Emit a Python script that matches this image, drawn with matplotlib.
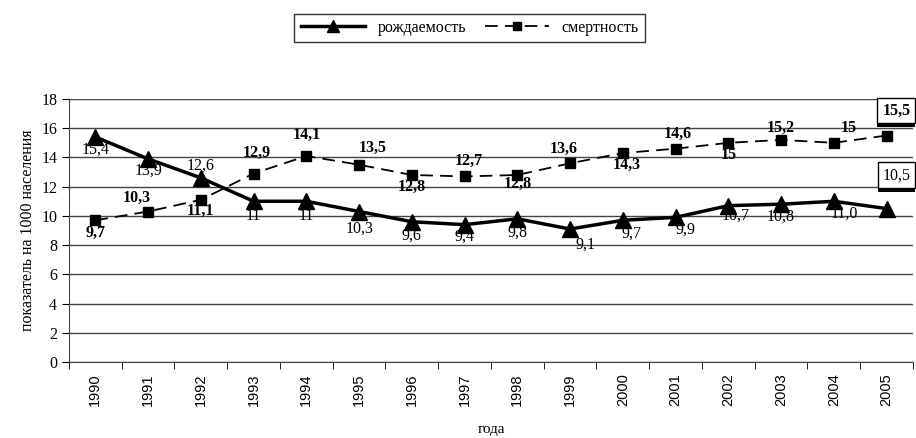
import numpy as np
import matplotlib.pyplot as plt
import matplotlib.patheffects as pe

plt.rcParams['font.family'] = ['Liberation Serif', 'DejaVu Serif']

years = [str(y) for y in range(1990, 2006)]
births = [15.4, 13.9, 12.6, 11, 11, 10.3, 9.6, 9.4, 9.8, 9.1, 9.7, 9.9, 10.7, 10.8, 11.0, 10.5]
deaths = [9.7, 10.3, 11.1, 12.9, 14.1, 13.5, 12.8, 12.7, 12.8, 13.6, 14.3, 14.6, 15, 15.2, 15, 15.5]
births_txt = ['15,4', '13,9', '12,6', '11', '11', '10,3', '9,6', '9,4', '9,8', '9,1',
              '9,7', '9,9', '10,7', '10,8', '11,0', '10,5']
deaths_txt = ['9,7', '10,3', '11,1', '12,9', '14,1', '13,5', '12,8', '12,7', '12,8', '13,6',
              '14,3', '14,6', '15', '15,2', '15', '15,5']

# смещения подписей (в пикселях): x, y
births_off = [(0, -13), (0, -12), (0, 12), (0, -15), (0, -15), (0, -17), (0, -14), (0, -12),
              (0, -14), (15, -16), (9, -13), (10, -12), (7, -10), (0, -12), (10, -12)]
deaths_off = [(0, -13), (-11, 14), (0, -11), (3, 21), (0, 21), (14, 17), (0, -12), (4, 16),
              (0, -9), (-6, 14), (4, -12), (2, 15), (0, -12), (0, 12), (15, 15)]

x = np.arange(len(years))

fig = plt.figure(figsize=(9.16, 4.38), dpi=100)
ax = fig.add_axes([0.0753, 0.1735, 0.9214, 0.6005])

ax.plot(x, births, color='black', lw=2.5, marker='^', markersize=11, label='рождаемость',
        zorder=4, clip_on=False)
ax.plot(x, deaths, color='black', lw=1.3, ls=(0, (7, 4)), marker='s', markersize=6.5,
        label='смертность', zorder=4, clip_on=False)

for i, (dx, dy) in enumerate(births_off):
    ax.annotate(births_txt[i], (x[i], births[i]), xytext=(dx * 0.72, dy * 0.72),
                textcoords='offset points', ha='center', va='center', fontsize=11.5, zorder=5)
for i, (dx, dy) in enumerate(deaths_off):
    ax.annotate(deaths_txt[i], (x[i], deaths[i]), xytext=(dx * 0.72, dy * 0.72),
                textcoords='offset points', ha='center', va='center', fontsize=11.5,
                fontweight='bold', zorder=5)

# подписи последнего года в рамках (с тенью снизу)
for val, txt, dy, fw in [(deaths[-1], deaths_txt[-1], 18, 'bold'),
                         (births[-1], births_txt[-1], 24, 'normal')]:
    a = ax.annotate(txt, (x[-1], val), xytext=(7, dy), textcoords='offset points',
                    ha='center', va='center', fontsize=11.5, fontweight=fw, zorder=7,
                    annotation_clip=False,
                    bbox=dict(boxstyle='square,pad=0.3', fc='white', ec='black', lw=1))
    a.get_bbox_patch().set_path_effects([
        pe.SimplePatchShadow(offset=(0, -3), shadow_rgbFace='black', alpha=1),
        pe.Normal()])

ax.set_ylim(0, 18)
ax.set_yticks(range(0, 19, 2))
ax.set_xlim(-0.5, len(years) - 0.5)
ax.set_xticks(x)
ax.set_xticklabels(years, rotation=90, fontsize=10.5, family='Liberation Sans')
ax.set_xticks(np.arange(-0.5, len(years), 1), minor=True)
ax.tick_params(axis='x', which='major', length=0, pad=8)
ax.tick_params(axis='x', which='minor', length=5, direction='out', color='black')
ax.tick_params(axis='y', length=5, direction='out', labelsize=11.5)
ax.grid(axis='y', color='#444444', lw=1)
ax.set_axisbelow(True)
for s in ['top', 'right']:
    ax.spines[s].set_visible(False)
ax.spines['left'].set_color('#444444')
ax.spines['bottom'].set_color('#444444')

ax.set_ylabel('показатель на 1000 населения', fontsize=11.5)
ax.set_xlabel('года', fontsize=11, labelpad=12)

leg = fig.legend(loc='center', bbox_to_anchor=(0.513, 0.936), ncol=2, fontsize=11.5,
                 frameon=True, fancybox=False, edgecolor='black', handlelength=4,
                 columnspacing=1.2, borderpad=0.4, markerscale=0.8)
leg.get_frame().set_linewidth(1)

plt.savefig('out.png', dpi=100)
